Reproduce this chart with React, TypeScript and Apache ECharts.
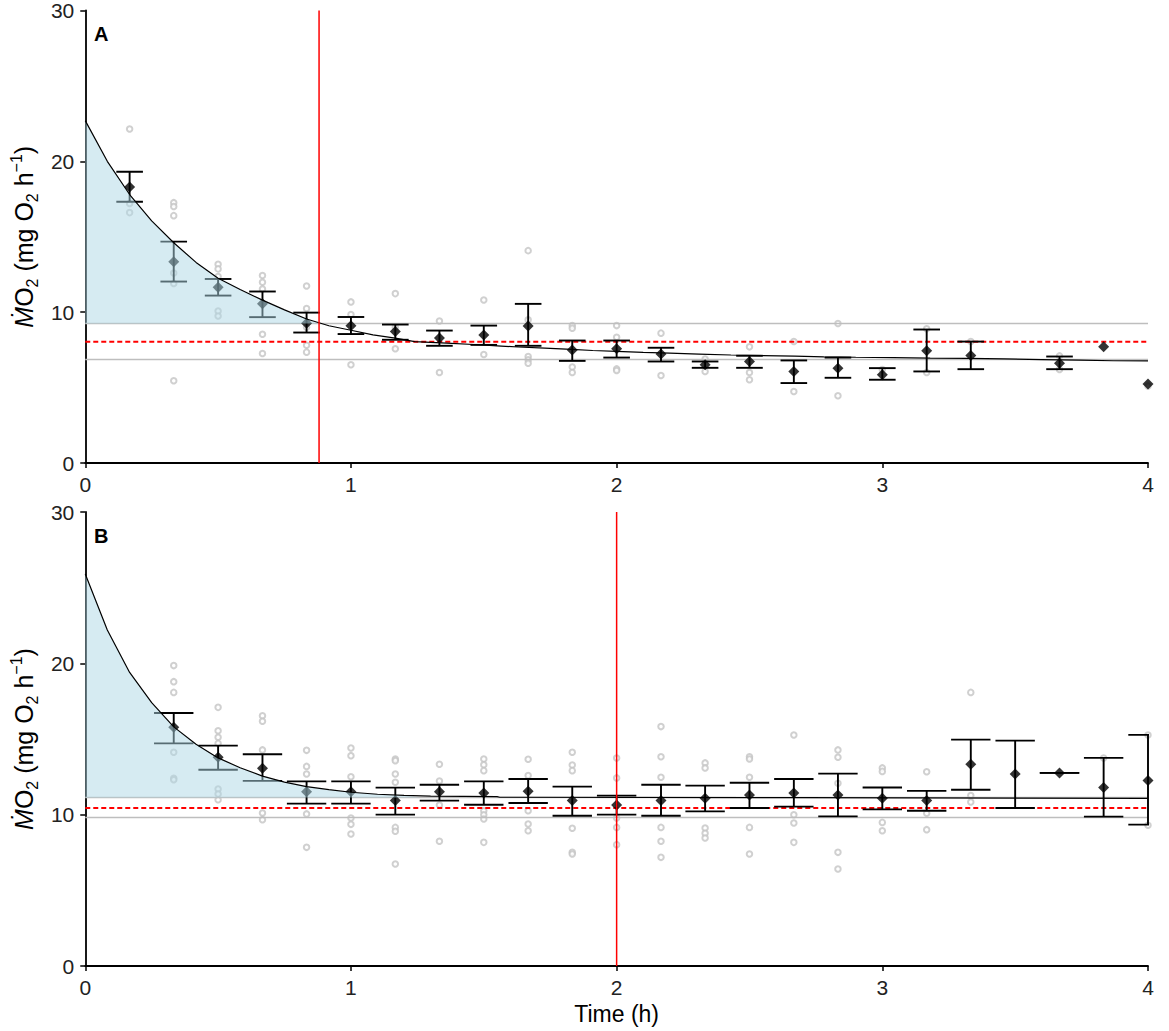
import React, { useEffect, useRef } from 'react';
import * as echarts from 'echarts';

const FONT = '"Liberation Sans", Arial, Helvetica, sans-serif';

// ---------- Panel A ----------
const timesA = [0.167, 0.333, 0.5, 0.667, 0.833, 1, 1.167, 1.333, 1.5, 1.667, 1.833, 2, 2.167, 2.333, 2.5, 2.667, 2.833, 3, 3.167, 3.333, 3.667, 3.833, 4];
const meansA = [18.3, 13.35, 11.65, 10.55, 9.27, 9.1, 8.72, 8.28, 8.48, 9.09, 7.5, 7.57, 7.22, 6.51, 6.73, 6.07, 6.29, 5.85, 7.44, 7.13, 6.62, 7.7, 5.23];
const upperA = [19.31, 14.68, 12.2, 11.37, 9.97, 9.68, 9.18, 8.78, 9.11, 10.55, 8.12, 8.12, 7.64, 6.73, 7.11, 6.8, 6.99, 6.29, 8.85, 8.05, 7.06, null, null];
const lowerA = [17.32, 12.03, 11.1, 9.67, 8.65, 8.55, 8.17, 7.77, 7.83, 7.77, 6.77, 6.99, 6.73, 6.31, 6.31, 5.3, 5.65, 5.52, 6.07, 6.22, 6.22, null, null];
const rawA = [
  [22.14, 17.2, 16.6],
  [17.26, 17.0, 16.4, 12.6, 11.9, 5.45],
  [13.18, 12.87, 12.36, 11.6, 10.07, 9.75],
  [12.43, 11.99, 11.54, 8.54, 7.26],
  [11.74, 10.24, 9.0, 7.81, 7.35],
  [10.68, 9.85, 6.51],
  [11.23, 9.0, 7.57],
  [9.42, 6.0],
  [10.81, 7.19],
  [14.08, 9.5, 7.06, 6.84, 6.62],
  [9.11, 8.94, 6.36, 6.0],
  [9.11, 8.34, 6.24, 6.13],
  [8.61, 5.8],
  [6.89, 6.07],
  [7.7, 6.0, 5.52],
  [8.05, 4.74],
  [9.25, 4.46],
  [6.2],
  [8.9, 6.0],
  [8.05],
  [7.1, 6.2],
  [],
  [5.1],
];
const curveTimesA = [0, 0.083, 0.167, 0.25, 0.333, 0.417, 0.5, 0.583, 0.667, 0.75, 0.833, 0.917, 1.0, 1.083, 1.167, 1.24, 1.36, 1.48, 1.55, 1.63, 1.73, 1.83, 1.91, 2.0, 2.1, 2.2, 2.31, 2.43, 2.55, 2.67, 2.78, 2.9, 3.04, 3.18, 3.32, 3.46, 3.6, 3.74, 3.87, 4.0];
const curveValuesA = [22.7, 20.0, 17.8, 16.05, 14.6, 13.3, 12.25, 11.5, 10.8, 10.15, 9.55, 9.1, 8.8, 8.5, 8.28, 8.05, 7.95, 7.84, 7.77, 7.69, 7.61, 7.53, 7.46, 7.4, 7.33, 7.28, 7.22, 7.16, 7.12, 7.08, 7.04, 7.01, 6.98, 6.95, 6.93, 6.9, 6.86, 6.82, 6.78, 6.77];
const upperLineA = 9.25;
const lowerLineA = 6.86;
const dashedLineA = 8.04;
const redTimeA = 0.88;
const fillEndA = 0.877;

// ---------- Panel B ----------
const timesB = [0.333, 0.5, 0.667, 0.833, 1, 1.167, 1.333, 1.5, 1.667, 1.833, 2, 2.167, 2.333, 2.5, 2.667, 2.833, 3, 3.167, 3.333, 3.5, 3.667, 3.833, 4];
const meansB = [15.77, 13.79, 13.06, 11.52, 11.52, 10.93, 11.52, 11.43, 11.54, 10.93, 10.64, 10.93, 11.08, 11.3, 11.43, 11.3, 11.08, 10.93, 13.33, 12.69, 12.76, 11.79, 12.25];
const upperB = [16.72, 14.56, 13.99, 12.2, 12.2, 11.79, 11.98, 12.2, 12.36, 11.85, 11.26, 11.98, 11.92, 12.11, 12.36, 12.71, 11.8, 11.57, 14.96, 14.89, 12.76, 13.75, 15.27];
const lowerB = [14.71, 12.97, 12.23, 10.73, 10.73, 10.0, 10.93, 10.66, 10.77, 9.93, 10.0, 9.93, 10.22, 10.44, 10.53, 9.89, 10.35, 10.26, 11.65, 10.44, 12.76, 9.87, 9.34];
const rawB = [
  [19.85, 18.79, 18.08, 14.12, 12.4, 12.31],
  [17.09, 15.55, 15.11, 14.71, 11.7, 11.37, 10.99],
  [16.54, 16.17, 14.28, 10.11, 9.67],
  [14.25, 13.19, 12.69, 10.05, 7.84],
  [14.41, 13.9, 12.51, 9.78, 9.36, 8.72],
  [13.68, 13.57, 12.69, 12.14, 9.16, 8.9, 6.74],
  [13.33, 12.23, 10.64, 8.24],
  [13.68, 13.3, 12.91, 10.26, 10.0, 9.71, 8.17],
  [13.66, 12.58, 10.26, 9.38, 8.94],
  [14.12, 13.28, 12.91, 9.1, 7.51, 7.4],
  [13.75, 12.43, 9.78, 9.16, 8.02],
  [15.82, 13.83, 12.47, 9.16, 8.24, 7.18],
  [13.42, 13.09, 9.12, 8.77, 8.46],
  [13.83, 13.68, 12.47, 9.16, 7.4],
  [15.27, 10.0, 9.45, 8.17],
  [14.28, 13.79, 12.07, 7.51, 6.41],
  [13.09, 12.86, 9.49, 8.94],
  [12.84, 10.09, 9.01],
  [18.08, 11.26, 10.84],
  [],
  [],
  [13.75],
  [15.27, 9.3],
];
const curveTimesB = [0, 0.083, 0.167, 0.25, 0.333, 0.417, 0.5, 0.583, 0.667, 0.75, 0.833, 0.917, 1.0, 1.1, 1.2, 1.3, 1.55, 1.56, 2.7, 4.0];
const curveValuesB = [25.9, 22.2, 19.4, 17.4, 15.8, 14.65, 13.75, 13.1, 12.55, 12.15, 11.85, 11.65, 11.48, 11.35, 11.27, 11.22, 11.19, 11.15, 11.13, 11.08];
const upperLineB = 11.14;
const lowerLineB = 9.82;
const dashedLineB = 10.44;
const redTimeB = 2.0;
const fillEndB = 1.26;

const xTicks = [0, 1, 2, 3, 4];
const yTicks = [0, 10, 20, 30];

type Panel = {
  times: number[]; means: number[]; upper: (number | null)[]; lower: (number | null)[];
  raw: number[][]; cT: number[]; cV: number[];
  up: number; lo: number; dash: number; red: number; fillEnd: number; cap: number;
};

const panels: Panel[] = [
  { times: timesA, means: meansA, upper: upperA, lower: lowerA, raw: rawA, cT: curveTimesA, cV: curveValuesA, up: upperLineA, lo: lowerLineA, dash: dashedLineA, red: redTimeA, fillEnd: fillEndA, cap: 13.3 },
  { times: timesB, means: meansB, upper: upperB, lower: lowerB, raw: rawB, cT: curveTimesB, cV: curveValuesB, up: upperLineB, lo: lowerLineB, dash: dashedLineB, red: redTimeB, fillEnd: fillEndB, cap: 19.7 },
];

function buildOption() {
  const grids = [
    { left: 84, top: 10, width: 1064, height: 453 },
    { left: 84, top: 512, width: 1064, height: 454 },
  ];
  const axisCommon = {
    axisLine: { show: true, lineStyle: { color: '#000', width: 1.8 } },
    axisTick: { show: true, length: 5, lineStyle: { color: '#000', width: 1.5 } },
    splitLine: { show: false },
  };
  const xAxes = grids.map((_, i) => ({
    ...axisCommon,
    type: 'value', gridIndex: i, min: xTicks[0], max: xTicks[xTicks.length - 1], interval: 1,
    axisLabel: { fontSize: 21, color: '#222', margin: 11, fontFamily: FONT },
    name: i === 1 ? 'Time (h)' : '',
    nameLocation: 'middle', nameGap: 36,
    nameTextStyle: { fontSize: 23, color: '#000', fontFamily: FONT },
  }));
  const richBase = { fontFamily: FONT, color: '#000' };
  const yAxes = grids.map((_, i) => ({
    ...axisCommon,
    type: 'value', gridIndex: i, min: yTicks[0], max: yTicks[yTicks.length - 1], interval: 10,
    axisLabel: { fontSize: 21, color: '#222', margin: 11, fontFamily: FONT },
    name: '{i|Ṁ}{n|O}{s|2}{n| (mg O}{s|2}{n| h}{p|−1}{n|)}',
    nameLocation: 'middle', nameGap: 45, nameRotate: 90,
    nameTextStyle: {
      fontFamily: FONT,
      rich: {
        n: { ...richBase, fontSize: 25, lineHeight: 32 },
        i: { ...richBase, fontSize: 25, lineHeight: 32, fontStyle: 'italic' },
        s: { ...richBase, fontSize: 16, lineHeight: 16, verticalAlign: 'bottom' },
        p: { ...richBase, fontSize: 16, lineHeight: 16, verticalAlign: 'top' },
      },
    },
  }));

  const series: any[] = [];
  panels.forEach((p, i) => {
    const rawPts: number[][] = [];
    p.raw.forEach((vals, k) => vals.forEach((v) => rawPts.push([p.times[k], v])));
    series.push({
      type: 'scatter', xAxisIndex: i, yAxisIndex: i, z: 2, silent: true,
      symbol: 'emptyCircle', symbolSize: 5.5,
      itemStyle: { color: '#c4c4c4', borderColor: '#c4c4c4', borderWidth: 1.2 },
      data: rawPts,
    });
    const hline = (v: number, color: string, width: number, type: any) => ({
      type: 'line', xAxisIndex: i, yAxisIndex: i, z: 3, silent: true, symbol: 'none',
      lineStyle: { color, width, type },
      data: [[xTicks[0], v], [xTicks[xTicks.length - 1], v]],
    });
    series.push(hline(p.up, '#bebebe', 1.5, 'solid'));
    series.push(hline(p.lo, '#bebebe', 1.5, 'solid'));
    series.push(hline(p.dash, '#ff0000', 1.8, [5, 3]));

    const errData: number[][] = [];
    p.times.forEach((t, k) => {
      if (p.upper[k] != null && p.lower[k] != null) errData.push([t, p.lower[k] as number, p.upper[k] as number]);
    });
    const cap = p.cap;
    series.push({
      type: 'custom', xAxisIndex: i, yAxisIndex: i, z: 4, silent: true, clip: true,
      data: errData,
      renderItem: (params: any, api: any) => {
        const t = api.value(0), lo = api.value(1), hi = api.value(2);
        const a = api.coord([t, lo]);
        const b = api.coord([t, hi]);
        const st = { stroke: '#000', lineWidth: 1.9 };
        return {
          type: 'group',
          children: [
            { type: 'line', shape: { x1: a[0], y1: a[1], x2: b[0], y2: b[1] }, style: st },
            { type: 'line', shape: { x1: a[0] - cap, y1: a[1], x2: a[0] + cap, y2: a[1] }, style: st },
            { type: 'line', shape: { x1: b[0] - cap, y1: b[1], x2: b[0] + cap, y2: b[1] }, style: st },
          ],
        };
      },
    });
    series.push({
      type: 'scatter', xAxisIndex: i, yAxisIndex: i, z: 5, silent: true,
      symbol: 'diamond', symbolSize: 11,
      itemStyle: { color: '#000' },
      data: p.times.map((t, k) => [t, p.means[k]]),
    });
    const poly: number[][] = [];
    p.cT.forEach((t, k) => { if (t < p.fillEnd) poly.push([t, p.cV[k]]); });
    poly.push([p.fillEnd, p.up]);
    poly.push([p.cT[0], p.up]);
    series.push({
      type: 'custom', xAxisIndex: i, yAxisIndex: i, z: 6, silent: true,
      data: [[p.cT[0], p.up]],
      renderItem: (params: any, api: any) => ({
        type: 'polygon',
        shape: { points: poly.map((q) => api.coord(q)) },
        style: { fill: 'rgba(173,216,230,0.5)' },
      }),
    });
    series.push({
      type: 'line', xAxisIndex: i, yAxisIndex: i, z: 7, silent: true, symbol: 'none',
      lineStyle: { color: '#000', width: 1.2 },
      data: p.cT.map((t, k) => [t, p.cV[k]]),
    });
    series.push({
      type: 'line', xAxisIndex: i, yAxisIndex: i, z: 8, silent: true, symbol: 'none',
      lineStyle: { color: '#ff0000', width: 1.5 },
      data: [[p.red, yTicks[0]], [p.red, yTicks[yTicks.length - 1]]],
    });
  });

  return {
    animation: false,
    backgroundColor: '#fff',
    grid: grids,
    xAxis: xAxes,
    yAxis: yAxes,
    series,
    graphic: [
      { type: 'text', left: 94, top: 24, style: { text: 'A', fontSize: 20, fontWeight: 'bold', fill: '#000', fontFamily: FONT } },
      { type: 'text', left: 94, top: 526, style: { text: 'B', fontSize: 20, fontWeight: 'bold', fill: '#000', fontFamily: FONT } },
    ],
  };
}

export default function App() {
  const ref = useRef<HTMLDivElement>(null);
  useEffect(() => {
    const chart = echarts.init(ref.current as HTMLDivElement, null, { renderer: 'svg' });
    chart.setOption(buildOption() as any);
    return () => chart.dispose();
  }, []);
  return (
    <div
      ref={ref}
      style={{ position: 'fixed', left: 0, top: 0, width: 1169, height: 1031, background: '#fff' }}
    />
  );
}
